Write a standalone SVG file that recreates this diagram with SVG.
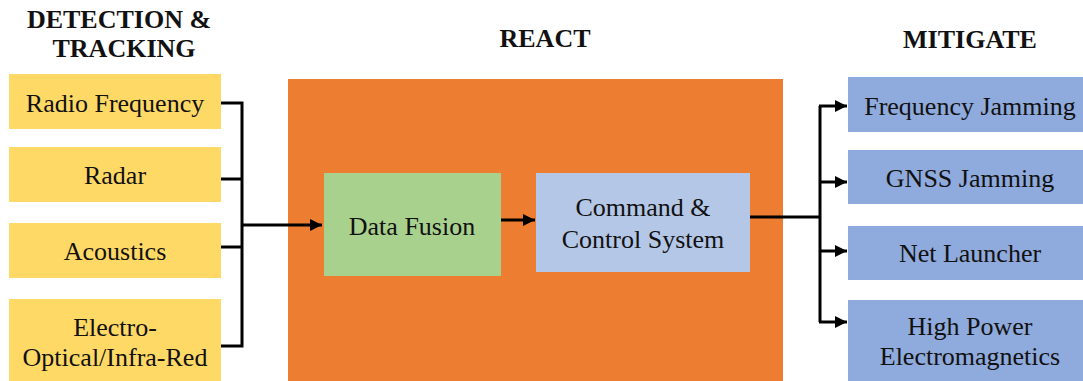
<svg xmlns="http://www.w3.org/2000/svg" width="1083" height="381" viewBox="0 0 1083 381">
<defs>
<marker id="ah" viewBox="0 0 10 10" refX="10" refY="5" markerWidth="4" markerHeight="4" markerUnits="strokeWidth" orient="auto">
<path d="M0,0 L10,5 L0,10 z" fill="#000"/>
</marker>
<style>
.y{fill:#FFD966}
.b{fill:#8FAADC}
.c{fill:none;stroke:#000;stroke-width:3}
.s{font-family:"Liberation Serif",serif;font-size:26px;fill:#111}
.t{font-family:"Liberation Serif",serif;font-size:26px;font-weight:bold;fill:#111}
</style>
</defs>
<rect width="1083" height="381" fill="#fff"/>
<g id="titles">
<text class="t" x="119" y="28" text-anchor="middle">DETECTION &amp;</text>
<text class="t" x="124" y="57" text-anchor="middle">TRACKING</text>
<text class="t" x="545" y="47" text-anchor="middle">REACT</text>
<text class="t" x="970" y="48" text-anchor="middle">MITIGATE</text>
</g>
<g id="react"><rect x="288" y="79" width="495" height="302" fill="#ED7D31"/></g>
<g id="rf"><rect class="y" x="9" y="74" width="212" height="55"/><text class="s" x="115" y="112" text-anchor="middle">Radio Frequency</text></g>
<g id="radar"><rect class="y" x="9" y="147" width="212" height="55"/><text class="s" x="115" y="184" text-anchor="middle">Radar</text></g>
<g id="acoustics"><rect class="y" x="9" y="223" width="212" height="55"/><text class="s" x="115" y="260" text-anchor="middle">Acoustics</text></g>
<g id="eoir"><rect class="y" x="9" y="299" width="212" height="82"/><text class="s" x="115" y="336" text-anchor="middle">Electro-</text><text class="s" x="115" y="366" text-anchor="middle">Optical/Infra-Red</text></g>
<g id="fusion"><rect x="324" y="173" width="177" height="103" fill="#A9D18E"/><text class="s" x="412" y="235" text-anchor="middle">Data Fusion</text></g>
<g id="c2"><rect x="536" y="173" width="214" height="99" fill="#B4C7E7"/><text class="s" x="643" y="216" text-anchor="middle">Command &amp;</text><text class="s" x="643" y="248" text-anchor="middle">Control System</text></g>
<g id="fj"><rect class="b" x="848" y="77" width="235" height="55"/><text class="s" x="970" y="115" text-anchor="middle">Frequency Jamming</text></g>
<g id="gnss"><rect class="b" x="848" y="150" width="235" height="54"/><text class="s" x="970" y="187" text-anchor="middle">GNSS Jamming</text></g>
<g id="net"><rect class="b" x="848" y="226" width="235" height="54"/><text class="s" x="970" y="262" text-anchor="middle">Net Launcher</text></g>
<g id="hpem"><rect class="b" x="848" y="300" width="235" height="81"/><text class="s" x="970" y="335" text-anchor="middle">High Power</text><text class="s" x="970" y="365" text-anchor="middle">Electromagnetics</text></g>
<g id="connectors">
<path class="c" d="M221,103 H242 V346 H221 M221,179 H242 M221,247 H242"/>
<path class="c" d="M242,225 H322" marker-end="url(#ah)"/>
<path class="c" d="M501,220 H535" marker-end="url(#ah)"/>
<path class="c" d="M750,217 H820 M820,106 V322"/>
<path class="c" d="M819,106 H847" marker-end="url(#ah)"/>
<path class="c" d="M819,182 H847" marker-end="url(#ah)"/>
<path class="c" d="M819,251 H847" marker-end="url(#ah)"/>
<path class="c" d="M819,322 H847" marker-end="url(#ah)"/>
</g>
</svg>
